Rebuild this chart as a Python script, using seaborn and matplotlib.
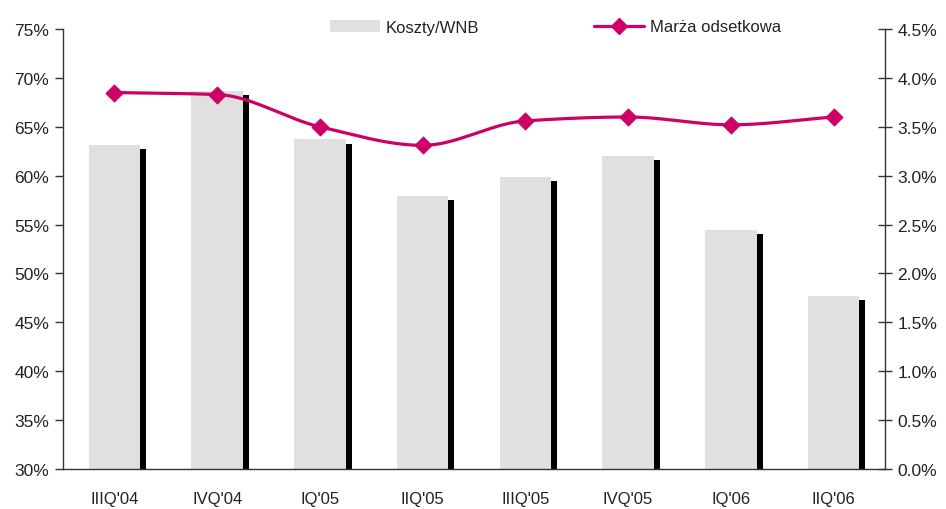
import numpy as np
import pandas as pd
import matplotlib
matplotlib.use("Agg")
import matplotlib.pyplot as plt
import matplotlib.patheffects as pe
from matplotlib.patches import Patch
from matplotlib.lines import Line2D
import seaborn as sns

quarters = ["IIIQ'04", "IVQ'04", "IQ'05", "IIQ'05", "IIIQ'05", "IVQ'05", "IQ'06", "IIQ'06"]
cost_income = [63.1, 68.7, 63.7, 57.9, 59.9, 62.0, 54.4, 47.7]   # Koszty/WNB, %
interest_margin = [3.85, 3.83, 3.50, 3.31, 3.56, 3.60, 3.52, 3.60]  # Marża odsetkowa, %

left_ticks = [30, 35, 40, 45, 50, 55, 60, 65, 70, 75]
right_ticks = [0.0, 0.5, 1.0, 1.5, 2.0, 2.5, 3.0, 3.5, 4.0, 4.5]

GRAY = "#e0e0e0"
MAGENTA = "#cc0066"
TEXT = "#222222"
AXIS = "#333333"


def monotone_curve(xs, ys, n=40):
    """Fritsch-Carlson monotone cubic through the given points."""
    xs = np.asarray(xs, float)
    ys = np.asarray(ys, float)
    h = np.diff(xs)
    d = np.diff(ys) / h
    m = np.zeros_like(ys)
    m[0], m[-1] = d[0], d[-1]
    for i in range(1, len(ys) - 1):
        if d[i - 1] * d[i] > 0:
            w1 = 2 * h[i] + h[i - 1]
            w2 = h[i] + 2 * h[i - 1]
            m[i] = (w1 + w2) / (w1 / d[i - 1] + w2 / d[i])
    out_x, out_y = [], []
    t = np.linspace(0, 1, n)
    for i in range(len(xs) - 1):
        h00 = 2 * t**3 - 3 * t**2 + 1
        h10 = t**3 - 2 * t**2 + t
        h01 = -2 * t**3 + 3 * t**2
        h11 = t**3 - t**2
        out_x.extend(xs[i] + t * h[i])
        out_y.extend(h00 * ys[i] + h10 * h[i] * m[i] + h01 * ys[i + 1] + h11 * h[i] * m[i + 1])
    return np.array(out_x), np.array(out_y)


sns.set_style("white")
plt.rcParams["font.family"] = ["Liberation Sans", "DejaVu Sans"]
plt.rcParams["font.size"] = 12

df = pd.DataFrame({"kwartal": quarters, "koszty": cost_income, "marza": interest_margin})

fig = plt.figure(figsize=(9.46, 5.10), dpi=100)
ax = fig.add_axes([63 / 946, 1 - 470 / 510, (885 - 63) / 946, 440 / 510])

sns.barplot(data=df, x="kwartal", y="koszty", color=GRAY, saturation=1, width=0.5, ax=ax)
for bar in ax.patches:
    bar.set_edgecolor("none")
    bar.set_path_effects([
        pe.SimplePatchShadow(offset=(4.3, -2.9), shadow_rgbFace="black", alpha=1.0),
        pe.Normal(),
    ])

ax.set_ylim(30, 75)
ax.set_yticks(left_ticks)
ax.set_yticklabels([f"{v}%" for v in left_ticks])
ax.set_xlim(-0.5, len(quarters) - 0.5)
ax.set_xticks(np.arange(len(quarters)))
ax.set_xticklabels(quarters)
ax.set_xticks(np.arange(len(quarters) + 1) - 0.5, minor=True)
ax.set_xlabel("")
ax.set_ylabel("")
ax.tick_params(axis="x", which="major", length=0, pad=16, colors=TEXT, labelsize=12)
ax.tick_params(axis="x", which="minor", direction="inout", length=10, width=1, color=AXIS)
ax.tick_params(axis="y", direction="out", length=6, width=1, color=AXIS, left=True,
               labelcolor=TEXT, labelsize=12.5, pad=4)
for side in ["top", "right"]:
    ax.spines[side].set_visible(False)
for side in ["left", "bottom"]:
    ax.spines[side].set_color(AXIS)
    ax.spines[side].set_linewidth(1)

# secondary axis: smoothed interest margin line
ax2 = ax.twinx()
x = np.arange(len(quarters), dtype=float)
cx, cy = monotone_curve(x, df["marza"])
ax2.plot(cx, cy, color=MAGENTA, lw=2.3, solid_capstyle="round", zorder=3)
sns.scatterplot(x=x, y=df["marza"], marker="D", s=75, color=MAGENTA, edgecolor=MAGENTA,
                ax=ax2, zorder=4)

ax2.set_ylim(0, 4.5)
ax2.set_yticks(right_ticks)
ax2.set_yticklabels([f"{v:.1f}%" for v in right_ticks])
ax2.set_ylabel("")
ax2.tick_params(axis="y", direction="inout", length=10, width=1, color=AXIS, right=True,
                labelcolor=TEXT, labelsize=12.5, pad=4)
for side in ["top", "left", "bottom"]:
    ax2.spines[side].set_visible(False)
ax2.spines["right"].set_color(AXIS)
ax2.spines["right"].set_linewidth(1)

handles = [
    Patch(facecolor=GRAY, edgecolor="none", label="Koszty/WNB"),
    Line2D([0], [0], color=MAGENTA, lw=2.3, marker="D", markersize=8.5, label="Marża odsetkowa"),
]
fig.legend(handles=handles, loc="center left", bbox_to_anchor=(330 / 946, 1 - 28 / 510),
           ncol=2, frameon=False, handlelength=3.0, handletextpad=0.35, columnspacing=6.9,
           borderpad=0, borderaxespad=0, fontsize=12, labelcolor=TEXT)

fig.savefig("out.png", dpi=100)
